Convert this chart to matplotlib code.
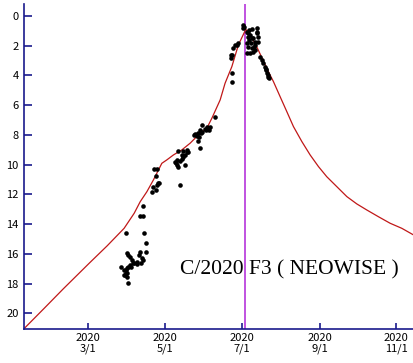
import matplotlib
matplotlib.use("Agg")
import matplotlib.pyplot as plt

# day of year 2020 (Jan 1 = 0) and magnitude of the model curve
curve_day = [9.1, 24.8, 40.0, 60.6, 75.0, 88.4, 96.4, 101.2, 106.5, 111.7, 115.7, 118.4,
             122.4, 127.6, 134.3, 140.9, 147.5, 154.2, 158.2, 164.8, 168.7, 174.1,
             179.3, 185.2, 192.6, 203.2, 207.2, 212.5, 217.8, 223.1, 229.8, 236.4,
             243.0, 249.6, 257.6, 265.6, 273.5, 281.5, 290.7, 300.0, 309.3, 318.5]
curve_mag = [21.0, 19.66, 18.35, 16.63, 15.45, 14.28, 13.27, 12.49, 11.82, 11.03, 10.36, 9.91,
             9.68, 9.35, 9.01, 8.56, 8.0, 7.55, 6.88, 5.65, 4.53, 3.41,
             1.95, 0.9, 1.84, 3.75, 4.42, 5.43, 6.43, 7.44, 8.45, 9.35,
             10.13, 10.81, 11.48, 12.15, 12.64, 13.05, 13.5, 13.94, 14.28, 14.72]

# observations (pixel readings converted to day / magnitude)
obs_x = [142.7, 140.0, 143.3, 126.0, 144.0, 145.7, 145.7, 126.7, 128.3, 130.0, 131.7,
         140.0, 139.3, 141.7, 143.3, 136.7, 133.3, 130.0, 128.3, 126.7, 126.0, 126.7,
         127.3, 125.0, 120.7, 128.3, 134.0, 137.3, 140.7, 124.0, 125.7, 124.0, 130.7,
         153.3, 156.0, 158.3, 156.0, 154.0, 157.3, 159.3, 157.3, 152.3, 180.0,
         176.0, 177.3, 178.3, 180.0, 181.7, 183.3, 185.0, 186.7, 188.3, 183.3, 186.7,
         178.3, 181.7, 185.0, 175.0, 176.7, 200.0, 198.3, 195.0, 196.7, 199.3, 194.0,
         198.3, 200.0, 201.7, 200.7, 201.7, 205.0, 206.7, 208.3, 210.0, 209.3, 206.0,
         215.0, 235.0, 233.3, 230.7, 230.7, 231.7, 231.7, 232.3, 236.7, 238.3,
         243.3, 244.3, 243.3, 246.7, 248.3, 247.7, 250.0, 249.0, 251.7, 251.0, 246.7,
         248.3, 253.3, 255.0, 254.3, 251.7, 256.7, 258.3, 256.7, 255.0, 258.3, 253.3,
         250.0, 246.7, 257.3, 260.0, 261.7, 263.3, 265.0, 265.7, 266.7, 268.3, 267.7,
         269.0, 266.0, 249.0, 252.0, 255.0]
obs_y = [206.0, 215.7, 215.7, 232.7, 232.7, 242.7, 251.7, 252.7, 255.0, 257.3, 260.0,
         251.7, 255.0, 258.3, 260.0, 261.7, 263.3, 265.0, 266.7, 268.3, 270.0, 273.3,
         276.7, 275.0, 267.3, 282.7, 263.3, 264.0, 263.3, 270.0, 273.3, 275.0, 267.3,
         187.3, 190.0, 183.3, 176.0, 169.0, 169.0, 183.3, 185.0, 191.7, 185.0,
         162.7, 165.0, 166.7, 161.0, 159.3, 156.7, 155.0, 152.3, 151.7, 151.0, 150.0,
         151.0, 155.0, 165.0, 161.7, 160.0, 147.7, 141.0, 134.3, 135.7, 136.7, 135.0,
         133.3, 130.0, 131.7, 133.3, 125.0, 129.3, 126.7, 128.3, 126.7, 130.0, 130.0,
         116.7, 45.0, 48.3, 55.0, 58.3, 72.7, 81.7, 55.0, 45.0, 43.3,
         25.0, 26.7, 28.3, 31.7, 33.3, 36.7, 35.0, 40.0, 38.3, 43.3, 43.3,
         46.7, 38.3, 41.7, 46.7, 48.3, 33.3, 36.7, 31.7, 50.0, 41.7, 51.7,
         52.7, 53.3, 28.3, 56.7, 60.0, 63.3, 66.7, 70.0, 73.3, 75.0, 76.7,
         78.3, 69.3, 30.0, 29.0, 45.0]

obs_day = [60 + (x - 88.3) / 1.2571 for x in obs_x]
obs_mag = [(y - 16.0) / 14.87 for y in obs_y]

perihelion_day = 184.6
tick_days = [60, 121, 182, 244, 305]
tick_labels = ["2020\n3/1", "2020\n5/1", "2020\n7/1", "2020\n9/1", "2020\n11/1"]

navy = "#1a1a8c"

fig = plt.figure(figsize=(4.14, 3.63), dpi=100)
ax = fig.add_axes([0.0587, 0.0928, 0.9413, 0.8962])

ax.plot(curve_day, curve_mag, color="#c01818", lw=0.9, zorder=2)
ax.axvline(perihelion_day, color="#bb44dd", lw=1.3, zorder=1)
ax.plot(obs_day, obs_mag, "o", color="black", ms=3.3, mew=0, zorder=3)

ax.set_xlim(9.0, 319.0)
ax.set_ylim(21.07, -0.8)
ax.set_yticks(range(0, 21, 2))
ax.set_xticks(tick_days)
ax.set_xticklabels(tick_labels, linespacing=1.0)

for s in ["top", "right"]:
    ax.spines[s].set_visible(False)
for s in ["left", "bottom"]:
    ax.spines[s].set_color(navy)
    ax.spines[s].set_linewidth(1.2)

ax.tick_params(axis="y", direction="in", length=6, width=1.2, color=navy, pad=4)
ax.tick_params(axis="x", direction="in", length=4, width=1.2, color=navy, pad=3)
for lab in ax.get_xticklabels() + ax.get_yticklabels():
    lab.set_fontfamily(["Noto Sans CJK JP", "DejaVu Sans"])
    lab.set_fontsize(8)

ax.text(133.0, 17.08, "C/2020 F3 ( NEOWISE )", family="Liberation Serif", fontsize=15.5,
        color="black", va="center", ha="left", zorder=4)

fig.savefig("out.png", dpi=100)
